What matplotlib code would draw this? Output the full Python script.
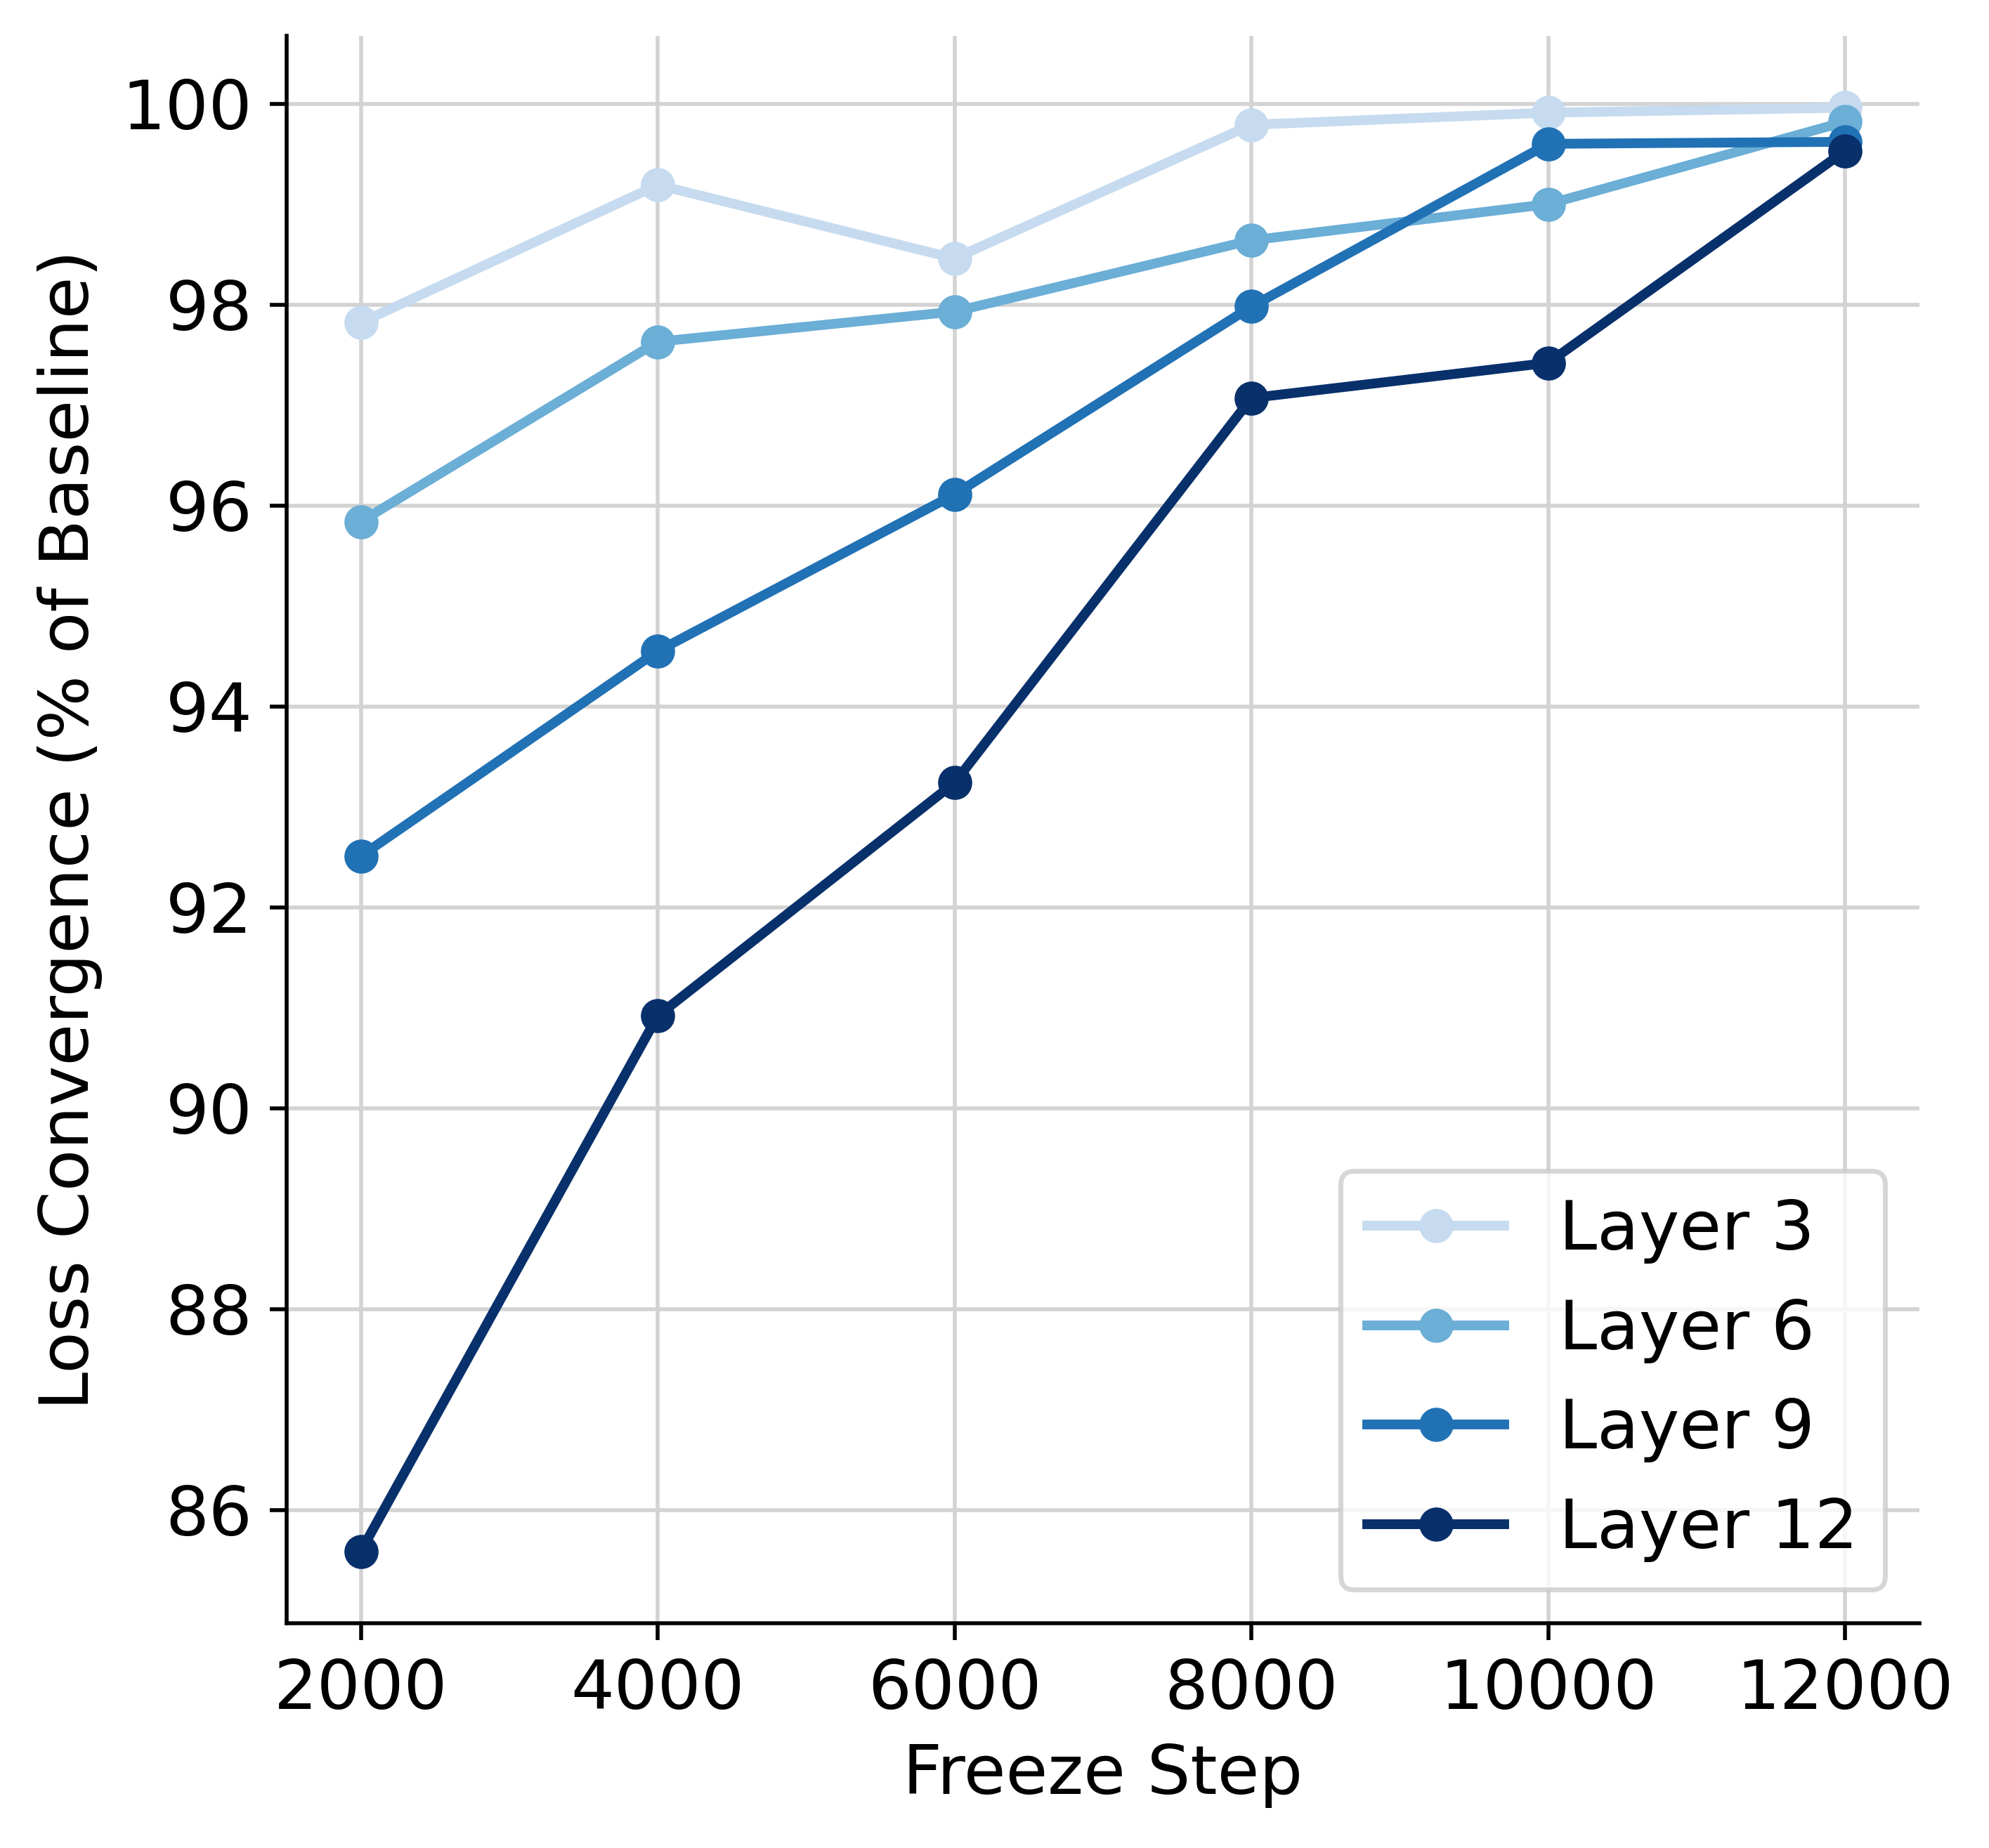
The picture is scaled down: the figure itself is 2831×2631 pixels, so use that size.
import numpy as np
import matplotlib
matplotlib.use("Agg")
import matplotlib.pyplot as plt

# 凍結ステップ
freeze_steps = [2000, 4000, 6000, 8000, 10000, 12000]

# 各層の損失収束率 (% of baseline)
layer3 = [97.82, 99.19, 98.46, 99.79, 99.91, 99.96]
layer6 = [95.84, 97.63, 97.93, 98.64, 99.00, 99.82]
layer9 = [92.51, 94.55, 96.11, 97.98, 99.60, 99.62]
layer12 = [85.59, 90.92, 93.24, 97.07, 97.42, 99.53]

series_labels = ["Layer 3", "Layer 6", "Layer 9", "Layer 12"]
series_colors = ["#c6dbef", "#6baed6", "#2171b5", "#08306b"]

plt.rcParams["font.size"] = 14

fig = plt.figure(figsize=(2831 / 500, 2631 / 500), dpi=500)
ax = fig.add_axes([0.1441, 0.1215, 0.8209, 0.8593])

for values, label, color in zip([layer3, layer6, layer9, layer12], series_labels, series_colors):
    ax.plot(freeze_steps, values, "o-", color=color, label=label, linewidth=2, markersize=6)

ax.set_xticks(freeze_steps)
ax.set_xlabel("Freeze Step", fontsize=14)
ax.set_ylabel("Loss Convergence (% of Baseline)", fontsize=14)
ax.tick_params(labelsize=14)
ax.grid(True, color="#d3d3d3", linewidth=0.8)
ax.set_axisbelow(True)
ax.spines["top"].set_visible(False)
ax.spines["right"].set_visible(False)
ax.legend(loc="lower right", fontsize=14)

fig.savefig("out.png", dpi=500)
